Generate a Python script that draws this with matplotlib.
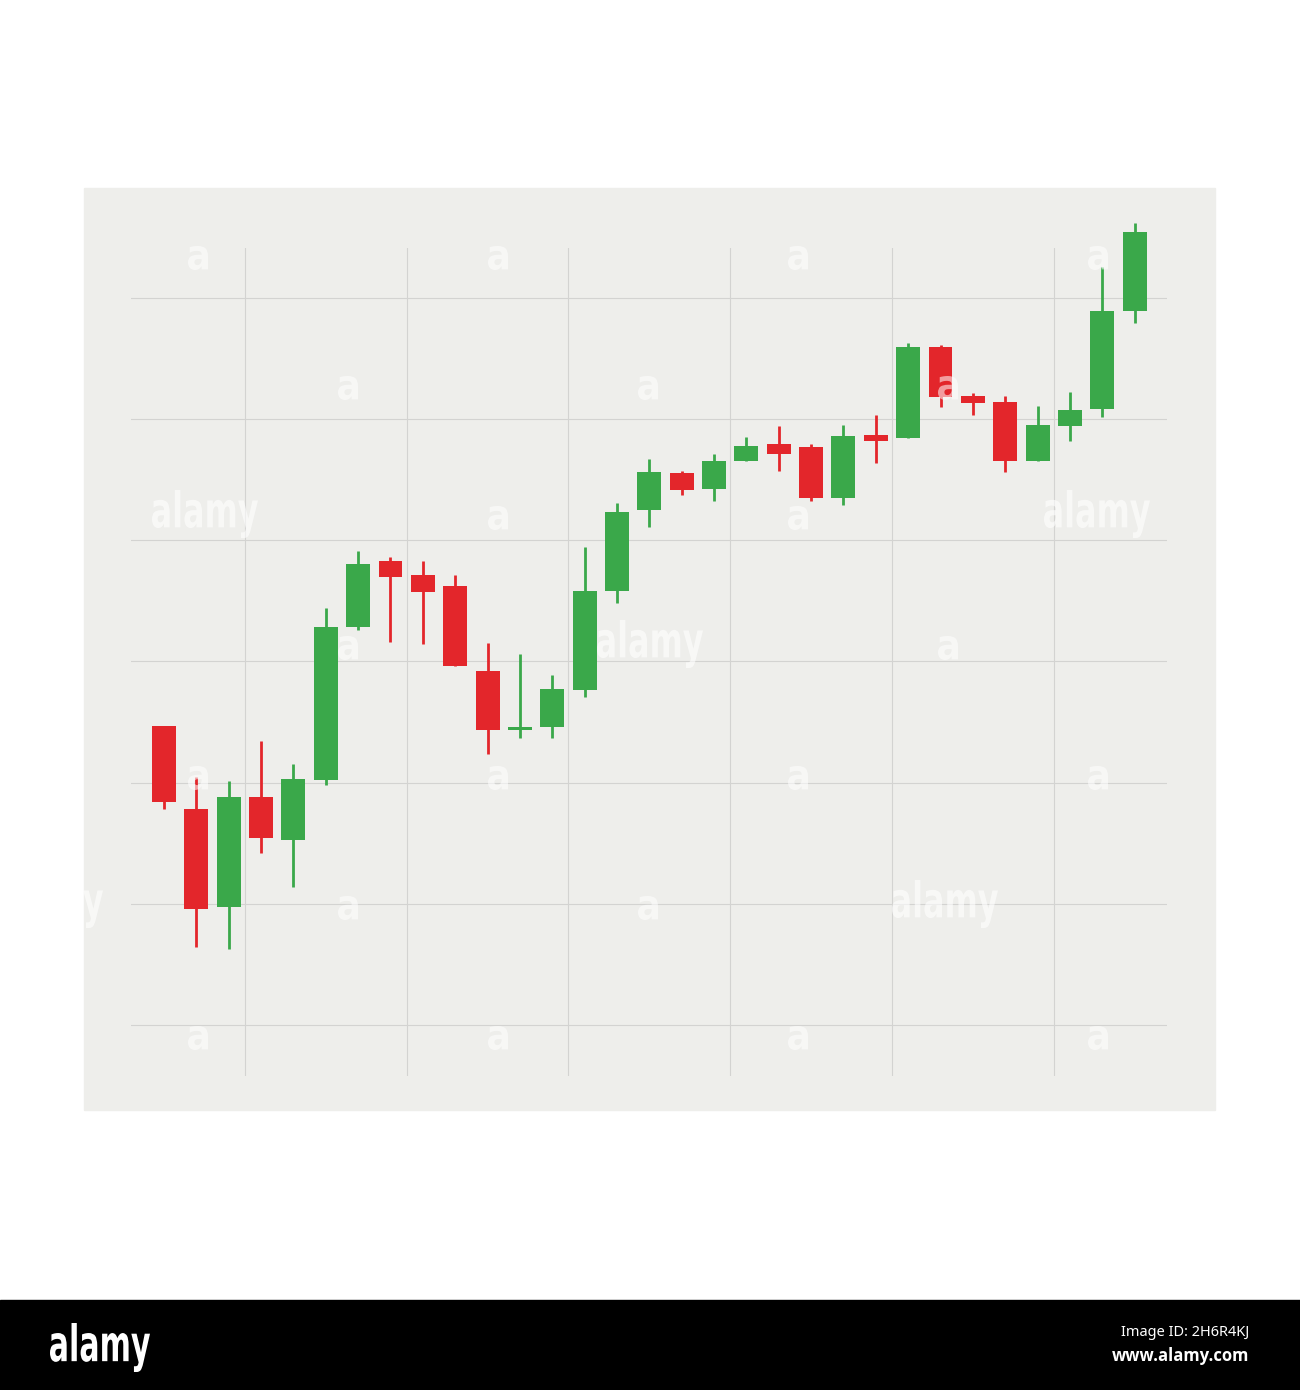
import numpy as np
import matplotlib
matplotlib.use("Agg")
import matplotlib.pyplot as plt
from matplotlib.patches import Rectangle, PathPatch
from matplotlib.textpath import TextPath
from matplotlib.font_manager import FontProperties
from matplotlib.transforms import Affine2D

# candle values (open, high, low, close)
opens  = [3.47, 2.78, 1.97, 2.88, 2.53, 3.02, 4.28, 4.83, 4.71, 4.62, 3.92,
          3.43, 3.46, 3.76, 4.58, 5.25, 5.55, 5.42, 5.65, 5.79, 5.77, 5.35,
          5.87, 5.84, 6.59, 6.19, 6.14, 5.65, 5.94, 6.08, 6.89]
highs  = [3.47, 3.05, 3.01, 3.34, 3.15, 4.44, 4.91, 4.86, 4.83, 4.71, 4.15,
          4.06, 3.89, 4.94, 5.31, 5.67, 5.57, 5.71, 5.85, 5.94, 5.79, 5.95,
          6.03, 6.63, 6.61, 6.21, 6.19, 6.11, 6.22, 7.25, 7.62]
lows   = [2.78, 1.64, 1.63, 2.42, 2.14, 2.98, 4.26, 4.16, 4.14, 3.96, 3.24,
          3.37, 3.37, 3.71, 4.48, 5.11, 5.37, 5.32, 5.65, 5.57, 5.32, 5.29,
          5.64, 5.84, 6.10, 6.03, 5.56, 5.65, 5.82, 6.02, 6.79]
closes = [2.84, 1.96, 2.88, 2.54, 3.03, 4.28, 4.80, 4.70, 4.57, 3.96, 3.43,
          3.46, 3.77, 4.58, 5.23, 5.56, 5.41, 5.65, 5.78, 5.71, 5.35, 5.86,
          5.82, 6.59, 6.18, 6.13, 5.65, 5.95, 6.07, 6.89, 7.54]

grid_x = [2.5, 7.5, 12.5, 17.5, 22.5, 27.5]
grid_y = [1, 2, 3, 4, 5, 6, 7]

RED = "#E3262B"
GREEN = "#3AA84A"
PANEL = "#EEEEEB"
GRID = "#D3D3D1"

W, H = 1300, 1390
fig = plt.figure(figsize=(W / 100, H / 100), dpi=100, facecolor="white")

def fx(x):
    return x / W

def fy(y):
    return 1 - y / H

bold = FontProperties(family="DejaVu Sans", weight="bold")

def squeezed_text(s, x0, x1, ytop, ybot, color="white", alpha=1.0, z=10):
    # draw text as a path stretched into a pixel box (gives a condensed look)
    tp = TextPath((0, 0), s, size=100, prop=bold)
    bb = tp.get_extents()
    tr = (Affine2D().translate(-bb.x0, -bb.y0)
          .scale((x1 - x0) / bb.width / W, (ybot - ytop) / bb.height / H)
          .translate(x0 / W, (H - ybot) / H)) + fig.transFigure
    p = PathPatch(tp, transform=tr, facecolor=color, edgecolor="none",
                  alpha=alpha, zorder=z)
    fig.add_artist(p)

# light grey panel behind the chart
fig.patches.append(Rectangle((fx(84), fy(1110)), (1215 - 84) / W, (1110 - 188) / H,
                             transform=fig.transFigure, color=PANEL, zorder=-1))

ax = fig.add_axes([fx(131), fy(1076), (1167 - 131) / W, (1076 - 248) / H])
ax.set_facecolor("none")
for s in ax.spines.values():
    s.set_visible(False)

o = np.array(opens)
c = np.array(closes)
x = np.arange(len(o))
up = c >= o
cols = np.where(up, GREEN, RED)

ax.vlines(x, lows, highs, colors=cols, linewidth=2.0, zorder=2, clip_on=False)
ax.bar(x, np.abs(c - o), bottom=np.minimum(o, c), width=0.74, color=cols,
       zorder=3, clip_on=False)

ax.set_xlim(-1.02, 31.0)
ax.set_ylim(0.58, 7.41)
ax.set_xticks(grid_x)
ax.set_yticks(grid_y)
ax.tick_params(length=0, labelbottom=False, labelleft=False)
ax.grid(True, color=GRID, linewidth=0.8, zorder=0)
ax.set_axisbelow(True)

# faint watermarks
small_a = [(198, 258), (498, 258), (798, 258), (1098, 258),
           (348, 388), (648, 388), (948, 388),
           (498, 518), (798, 518),
           (348, 648), (948, 648),
           (198, 778), (498, 778), (798, 778), (1098, 778),
           (348, 908), (648, 908),
           (198, 1038), (498, 1038), (798, 1038), (1098, 1038)]
for px, py in small_a:
    squeezed_text("a", px - 10, px + 10, py - 12, py + 12, alpha=0.55)
for px, py in [(205, 518), (650, 648), (945, 908), (1097, 518), (50, 908)]:
    squeezed_text("alamy", px - 53, px + 53, py - 28, py + 20, alpha=0.6)

# bottom banner
fig.patches.append(Rectangle((0, 0), 1, 90 / H, transform=fig.transFigure,
                             color="black", zorder=5))
squeezed_text("alamy", 50, 150, 1323, 1372, z=11)
fig.text(fx(1249), fy(1332), "Image ID: 2H6R4KJ", color="white", fontsize=10.5,
         family=["Noto Sans", "DejaVu Sans"], ha="right", va="center", zorder=11)
fig.text(fx(1249), fy(1356), "www.alamy.com", color="white", fontsize=12,
         fontweight="bold", family=["Open Sans", "DejaVu Sans"], ha="right",
         va="center", zorder=11)

fig.savefig("out.png", dpi=100, facecolor="white")
